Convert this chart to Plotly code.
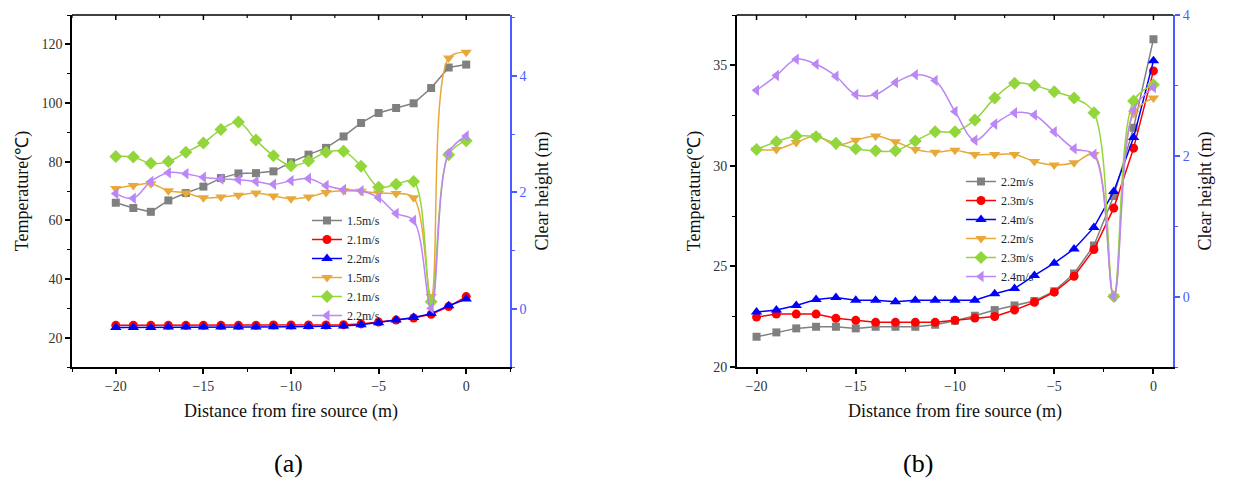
import plotly.graph_objects as go

# ---------------- data ----------------
distance = [-20, -19, -18, -17, -16, -15, -14, -13, -12, -11, -10,
            -9, -8, -7, -6, -5, -4, -3, -2, -1, 0]

# panel (a)
a_names = ["1.5m/s", "2.1m/s", "2.2m/s", "1.5m/s", "2.1m/s", "2.2m/s"]
a_temp_15 = [66.0, 64.2, 62.9, 66.8, 69.3, 71.5, 74.4, 76.0, 76.1, 76.7, 79.8,
             82.4, 84.7, 88.6, 93.2, 96.6, 98.3, 99.9, 105.1, 112.1, 113.1]
a_temp_21 = [24.2, 24.2, 24.2, 24.2, 24.2, 24.2, 24.2, 24.2, 24.2, 24.3, 24.3,
             24.3, 24.3, 24.4, 24.7, 25.3, 26.0, 26.7, 28.0, 30.6, 34.0]
a_temp_22 = [23.5, 23.5, 23.5, 23.6, 23.6, 23.6, 23.6, 23.6, 23.6, 23.7, 23.7,
             23.8, 23.8, 24.0, 24.4, 25.1, 26.0, 26.9, 28.2, 30.9, 33.2]
a_h_15 = [2.07, 2.12, 2.15, 2.03, 1.99, 1.91, 1.92, 1.95, 1.99, 1.94, 1.89,
          1.92, 2.00, 2.03, 2.02, 1.99, 1.98, 1.91, 0.21, 4.31, 4.41]
a_h_21 = [2.62, 2.61, 2.50, 2.53, 2.69, 2.85, 3.08, 3.21, 2.90, 2.63, 2.46,
          2.54, 2.69, 2.71, 2.45, 2.09, 2.14, 2.19, 0.12, 2.65, 2.89]
a_h_22 = [1.98, 1.90, 2.19, 2.34, 2.32, 2.26, 2.23, 2.22, 2.19, 2.14, 2.20,
          2.24, 2.12, 2.05, 2.03, 1.91, 1.64, 1.52, 0.01, 2.68, 2.97]

# panel (b)
b_names = ["2.2m/s", "2.3m/s", "2.4m/s", "2.2m/s", "2.3m/s", "2.4m/s"]
b_temp_22 = [21.5, 21.72, 21.92, 22.0, 22.0, 21.92, 22.0, 22.0, 22.0, 22.1, 22.3,
             22.55, 22.83, 23.06, 23.28, 23.77, 24.65, 26.04, 28.5, 31.9, 36.3]
b_temp_23 = [22.48, 22.63, 22.63, 22.63, 22.42, 22.32, 22.22, 22.22, 22.22, 22.22, 22.32,
             22.43, 22.51, 22.83, 23.22, 23.72, 24.51, 25.84, 27.9, 30.88, 34.72]
b_temp_24 = [22.73, 22.83, 23.06, 23.36, 23.46, 23.32, 23.32, 23.24, 23.32, 23.32, 23.32,
             23.32, 23.64, 23.9, 24.55, 25.16, 25.87, 26.94, 28.73, 31.41, 35.22]
b_h_22 = [2.09, 2.09, 2.19, 2.28, 2.15, 2.22, 2.28, 2.20, 2.09, 2.05, 2.08,
          2.02, 2.02, 2.02, 1.92, 1.87, 1.90, 2.02, 0.0, 2.60, 2.82]
b_h_23 = [2.09, 2.20, 2.28, 2.27, 2.18, 2.10, 2.07, 2.07, 2.21, 2.34, 2.34,
          2.51, 2.82, 3.03, 3.00, 2.91, 2.82, 2.61, 0.0, 2.78, 3.01]
b_h_24 = [2.93, 3.14, 3.37, 3.30, 3.13, 2.87, 2.87, 3.04, 3.15, 3.07, 2.63,
          2.22, 2.45, 2.61, 2.58, 2.34, 2.10, 2.02, 0.0, 2.65, 2.97]

x_title = "Distance from fire source (m)"
y_title = "Temperature(℃)"
y2_title = "Clear height (m)"
panel_labels = ["(a)", "(b)"]

# tick values for the top frame (inside ticks)
top_major_ticks = [-20, -15, -10, -5, 0]
top_minor_ticks = [-22.5, -17.5, -12.5, -7.5, -2.5]

# ---------------- styles ----------------
FONT = "Liberation Serif"
AX_BLUE = "#4a5cff"
styles = [
    dict(color="#808080", symbol="square", size=8, shape="linear"),
    dict(color="#ff0000", symbol="circle", size=9, shape="linear"),
    dict(color="#0000ff", symbol="triangle-up", size=10, shape="linear"),
    dict(color="#e8a93a", symbol="triangle-down", size=10, shape="spline"),
    dict(color="#93d63b", symbol="diamond", size=10, shape="spline"),
    dict(color="#bb86f5", symbol="triangle-left", size=10, shape="spline"),
]

fig = go.Figure()

def add_series(ys, names, xax, yax_left, yax_right, legend):
    for i, (y, n) in enumerate(zip(ys, names)):
        st = styles[i]
        fig.add_trace(go.Scatter(
            x=distance, y=y, name=n, mode="lines+markers",
            xaxis=xax, yaxis=(yax_left if i < 3 else yax_right),
            line=dict(color=st["color"], width=1.5, shape=st["shape"], smoothing=1.0),
            marker=dict(color=st["color"], symbol=st["symbol"], size=st["size"]),
            legend=legend,
        ))

add_series([a_temp_15, a_temp_21, a_temp_22, a_h_15, a_h_21, a_h_22],
           a_names, "x", "y", "y2", "legend")
add_series([b_temp_22, b_temp_23, b_temp_24, b_h_22, b_h_23, b_h_24],
           b_names, "x2", "y3", "y4", "legend2")

W, H = 1235, 502
ydom = [1 - 367 / H, 1 - 15 / H]
dom_a = [72 / W, 510 / W]
dom_b = [736.7 / W, 1173.3 / W]
plot_h_px = (ydom[1] - ydom[0]) * H

tickfont = dict(family=FONT, size=14, color="#333333")
titlefont = dict(family=FONT, size=18, color="#111111")

def xax(domain, anchor, rng):
    return dict(domain=domain, anchor=anchor, range=rng, dtick=5, tick0=0,
                automargin=False,
                showgrid=False, zeroline=False, showline=True, linecolor="black",
                linewidth=1.5, tickcolor="black", tickwidth=1.5,
                ticks="outside", ticklen=5,
                minor=dict(dtick=2.5, ticks="outside", ticklen=3,
                           tickcolor="black", tickwidth=1.2),
                tickfont=tickfont,
                title=dict(text=x_title, font=titlefont, standoff=12))

def yleft(anchor, rng, dtick, minor):
    return dict(domain=ydom, anchor=anchor, range=rng, dtick=dtick,
                automargin=False,
                showgrid=False, zeroline=False, showline=True, linecolor="black",
                linewidth=1.5, ticks="outside", ticklen=5, tickcolor="black",
                tickwidth=1.5,
                minor=dict(dtick=minor, ticks="outside", ticklen=3,
                           tickcolor="black", tickwidth=1.2),
                tickfont=tickfont,
                title=dict(text=y_title, font=titlefont, standoff=8))

def yright(anchor, overlay, rng):
    return dict(anchor=anchor, overlaying=overlay, side="right", range=rng,
                automargin=False,
                dtick=2, showgrid=False, zeroline=False, showline=True,
                linecolor=AX_BLUE, linewidth=1.5, ticks="outside", ticklen=5,
                tickcolor=AX_BLUE, tickwidth=1.5,
                minor=dict(dtick=1, ticks="outside", ticklen=3,
                           tickcolor=AX_BLUE, tickwidth=1.2),
                tickfont=dict(family=FONT, size=14, color=AX_BLUE),
                title=dict(text=y2_title, font=titlefont, standoff=10))

# top frame line + inside ticks (axis decoration)
shapes = []
for xr, yr in (("x", "y"), ("x2", "y3")):
    shapes.append(dict(type="line", xref=f"{xr} domain", yref=f"{yr} domain",
                       x0=0, x1=1, y0=1, y1=1,
                       line=dict(color="black", width=1.5), layer="above"))
    for tv in top_major_ticks:
        shapes.append(dict(type="line", xref=xr, yref=f"{yr} domain",
                           x0=tv, x1=tv, y0=1, y1=1 - 5 / plot_h_px,
                           line=dict(color="black", width=1.5), layer="above"))
    for tv in top_minor_ticks:
        shapes.append(dict(type="line", xref=xr, yref=f"{yr} domain",
                           x0=tv, x1=tv, y0=1, y1=1 - 3 / plot_h_px,
                           line=dict(color="black", width=1.2), layer="above"))

legend_common = dict(font=dict(family=FONT, size=12, color="#222222"),
                     bgcolor="rgba(0,0,0,0)", borderwidth=0,
                     xanchor="left", yanchor="top", tracegroupgap=0,
                     itemwidth=30)

fig.update_layout(
    width=W, height=H,
    margin=dict(l=0, r=0, t=0, b=0, pad=0, autoexpand=False),
    paper_bgcolor="white", plot_bgcolor="white",
    showlegend=True,
    xaxis=xax(dom_a, "y", [-22.5, 2.5]),
    yaxis=yleft("x", [10, 130], 20, 10),
    yaxis2=yright("x", "y", [-1, 5.05]),
    xaxis2=xax(dom_b, "y3", [-21, 1]),
    yaxis3=yleft("x2", [20, 37.5], 5, 2.5),
    yaxis4=yright("x2", "y3", [-1, 4]),
    shapes=shapes,
    legend=dict(x=307 / W, y=1 - 206 / H, **legend_common),
    legend2=dict(x=961 / W, y=1 - 167 / H, **legend_common),
    annotations=[
        dict(text=panel_labels[0], x=272 / W, y=1 - 480 / H, xref="paper", yref="paper",
             showarrow=False, font=dict(family=FONT, size=26, color="black")),
        dict(text=panel_labels[1], x=935 / W, y=1 - 480 / H, xref="paper", yref="paper",
             showarrow=False, font=dict(family=FONT, size=26, color="black")),
    ],
)

fig.write_html("out.html")
